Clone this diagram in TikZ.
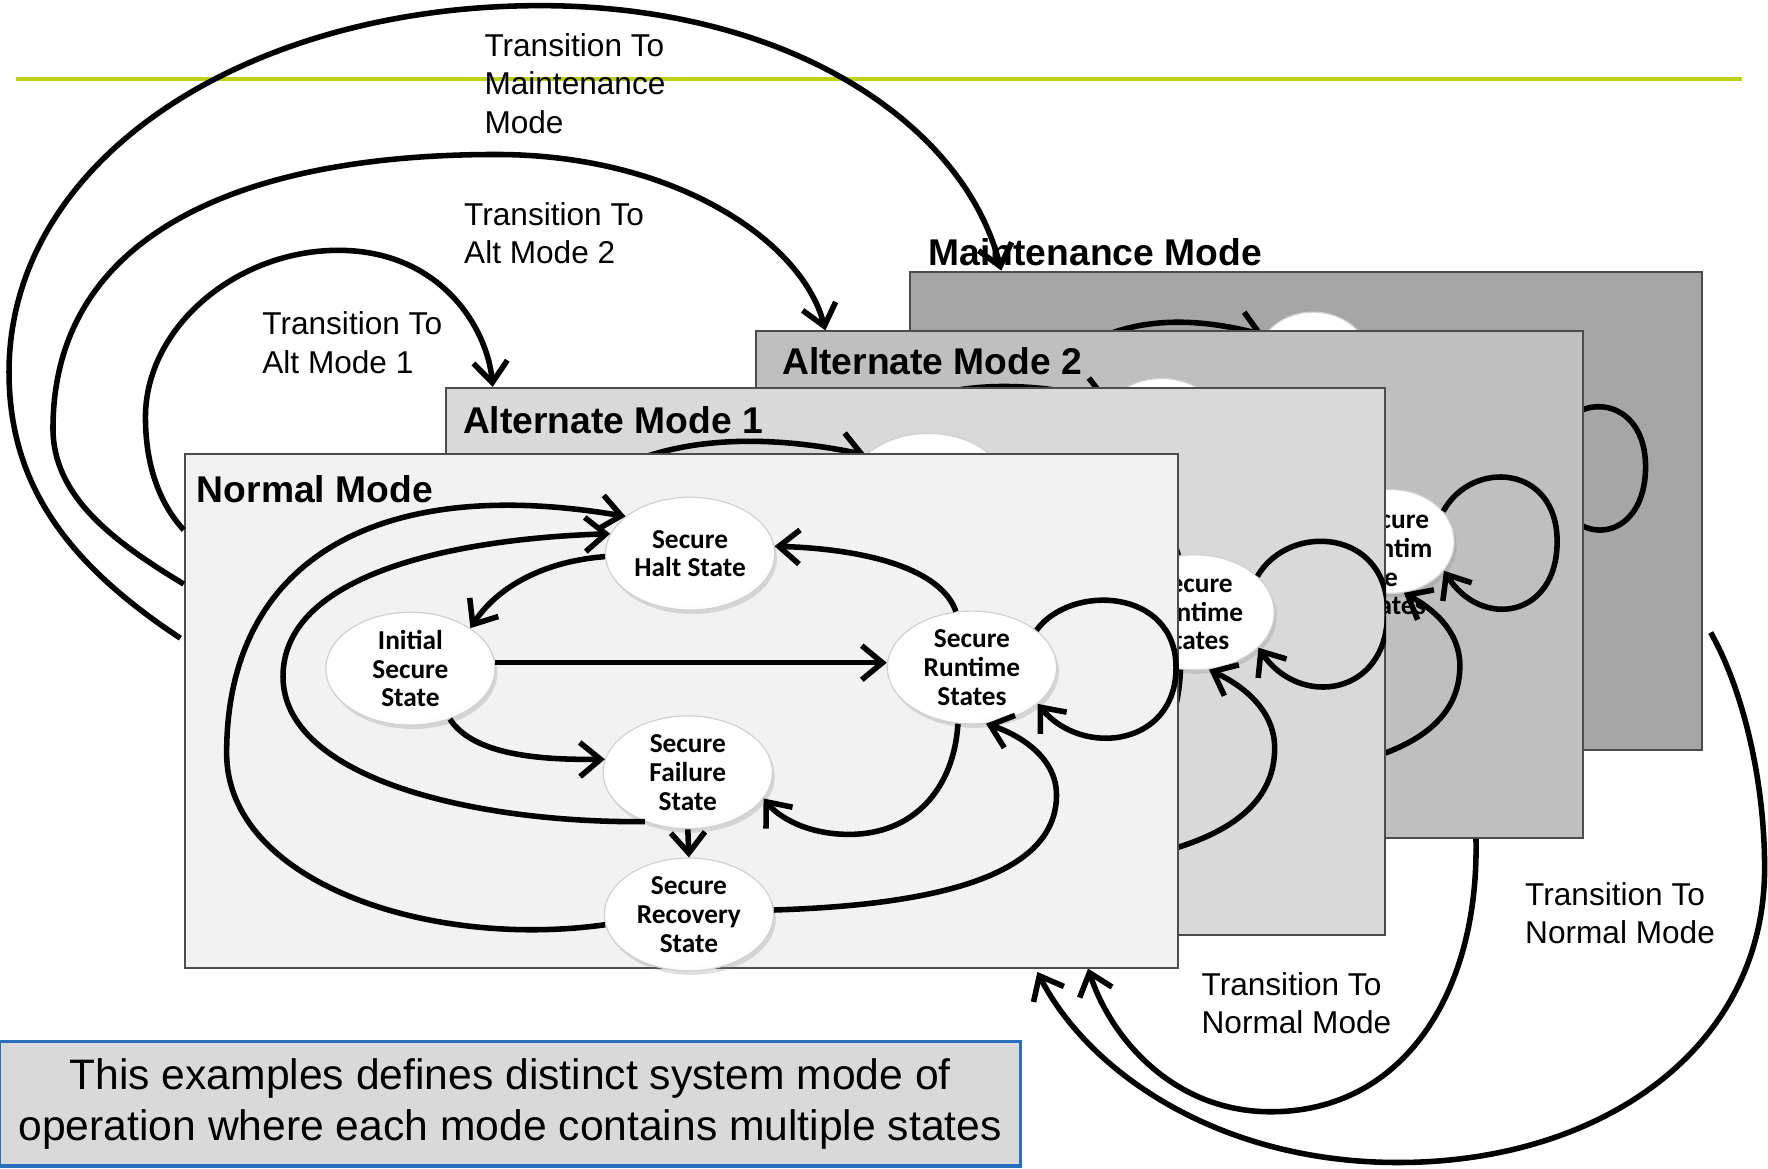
\documentclass[tikz,border=0pt]{standalone}
\usepackage{fontspec}
\setmainfont{Liberation Sans}
\newfontfamily\statefont{Carlito}
\usetikzlibrary{arrows.meta,shapes.geometric,shadows,calc}

\definecolor{normalfill}{HTML}{F2F2F2}
\definecolor{altonefill}{HTML}{D9D9D9}
\definecolor{alttwofill}{HTML}{BFBFBF}
\definecolor{maintfill}{HTML}{A6A6A6}
\definecolor{rulegreen}{RGB}{192,208,20}
\definecolor{noteblue}{RGB}{40,112,190}
\definecolor{notefill}{HTML}{D9D9D9}

% glossy fill of the state bubbles
\pgfdeclareradialshading{statGloss}{\pgfpoint{-4bp}{12bp}}{%
  color(0bp)=(white); color(30bp)=(white); color(44bp)=(black!5);
  color(56bp)=(black!20); color(66bp)=(black!36); color(100bp)=(black!36)}

\tikzset{
  modebox/.style={draw=black!70, line width=0.5pt, inner sep=0pt, anchor=north west},
  statenode/.style={ellipse, inner sep=-14pt, shade, shading=statGloss,
    draw=black!18, line width=0.3pt,
    drop shadow={shadow xshift=0.6pt, shadow yshift=-1pt, opacity=0.25},
    font=\statefont\bfseries\fontsize{6.9pt}{7.26pt}\selectfont,
    align=center, text=black},
  conn/.style={line width=1.4pt, -{Straight Barb[length=5.2pt,width=8.6pt]}},
  modetitle/.style={font=\bfseries\fontsize{9.39pt}{11pt}\selectfont, anchor=west, inner sep=0pt},
  translabel/.style={font=\fontsize{7.97pt}{9.67pt}\selectfont, align=left, anchor=west, inner sep=0pt},
  notebox/.style={draw=noteblue, line width=0.8pt, fill=notefill, inner sep=0pt,
    minimum width=9.05cm, minimum height=1.1cm, align=center,
    font=\fontsize{10.75pt}{12.8pt}\selectfont},
}

% label printers: layers seen only at their edges keep the bubbles blank
\newcommand\shownlabel[1]{#1}
\newcommand\blanklabel[1]{}

% the five states of one mode and the transitions between them
% #1 name prefix, #2 bubble width, #3 bubble height, #4 runtime label,
% #5 label printer for the other states
\newcommand\stategraph[5]{%
  \node[statenode, minimum width=#2, minimum height=#3] (#1halt) at (612,491) {#5{Secure\\Halt State}};
  \node[statenode, minimum width=#2, minimum height=#3] (#1init) at (364,593) {#5{Initial\\Secure\\State}};
  \node[statenode, minimum width=#2, minimum height=#3] (#1run) at (862,592) {#4};
  \node[statenode, minimum width=#2, minimum height=#3] (#1fail) at (610,685) {#5{Secure\\Failure\\State}};
  \node[statenode, minimum width=#2, minimum height=#3] (#1rec) at (611,811) {#5{Secure\\Recovery\\State}};
  \draw[conn] (#1rec.187) .. controls (380,842) and (201,782) .. (201,668)
    .. controls (201,500) and (330,420) .. (#1halt.150);
  \draw[conn] (#1fail.229) .. controls (420,730) and (251,690) .. (251,600)
    .. controls (251,510) and (400,478) .. (#1halt.166);
  \draw[conn] (#1halt.182) .. controls (480,498) and (440,522) .. (#1init.34);
  \draw[conn] (#1init.4) -- (#1run.west |- #1init.4);
  \draw[conn] (#1init.-52) .. controls (420,670) and (480,674) .. (#1fail.171);
  \draw[conn] (#1run.106) .. controls (835,505) and (770,487) .. (#1halt.5);
  \draw[conn] (#1run.256) .. controls (846,700) and (810,740) .. (753,740)
    .. controls (715,740) and (690,724) .. (#1fail.-19);
  \draw[conn] (#1rec.3) .. controls (850,802) and (937,770) .. (937,705)
    .. controls (937,672) and (905,652) .. (#1run.-76);
  \draw[conn] (#1run.30) .. controls (950,517) and (1043,522) .. (1043,592)
    .. controls (1043,662) and (960,672) .. (#1run.-29);
  \draw[conn] (#1fail.south) -- (#1rec.north);
}

\begin{document}
\begin{tikzpicture}[x=0.01cm, y=-0.01cm]
\useasboundingbox (0,0) rectangle (1568,1036);

% header rule
\coordinate (ruleL) at (14,70);
\coordinate (ruleR) at (1545,70);
\draw[rulegreen, line width=1pt] (ruleL) -- (ruleR);

% Maintenance mode (rearmost layer)
\node[modebox, fill=maintfill, minimum width=7.02cm, minimum height=4.24cm] (maint) at (806,240) {};
\begin{scope}
  \clip (maint.north west) rectangle (maint.south east);
  \begin{scope}[shift={(746,-123)}, xscale=0.684, yscale=0.907]
    \stategraph{m}{1.03cm}{0.91cm}{}{\blanklabel}
  \end{scope}
\end{scope}
\node[modetitle] (maintT) at (823,224) {Maintenance Mode};

% Alternate mode 2
\node[modebox, fill=alttwofill, minimum width=7.33cm, minimum height=4.49cm] (alt2) at (670,293) {};
\begin{scope}
  \clip (alt2.north west) rectangle (alt2.south east);
  \begin{scope}[shift={(532,-97)}, xscale=0.814, yscale=0.975]
    \stategraph{b}{1.12cm}{0.92cm}{\mbox{}\\[8pt]Secure\\Runtim\\e\\States}{\blanklabel}
  \end{scope}
\end{scope}
\node[modetitle] (alt2T) at (693,320) {Alternate Mode 2};

% Alternate mode 1
\node[modebox, fill=altonefill, minimum width=8.32cm, minimum height=4.85cm] (alt1) at (395,343) {};
\begin{scope}
  \clip (alt1.north west) rectangle (alt1.south east);
  \begin{scope}[shift={(245,-88)}, xscale=0.945, yscale=1.066]
    \stategraph{a}{1.41cm}{1.02cm}{Secure\\Runtime\\States}{\blanklabel}
  \end{scope}
\end{scope}
\node[modetitle] (alt1T) at (410,373) {Alternate Mode 1};

% Normal mode (front layer)
\node[modebox, fill=normalfill, minimum width=8.8cm, minimum height=4.55cm] (normal) at (163,402) {};
\node[modetitle] (normT) at (174,434) {Normal Mode};
\stategraph{n}{1.5cm}{1cm}{Secure\\Runtime\\States}{\shownlabel}

% transition labels
\node[translabel] (lblMaint) at (429,74) {Transition To\\Maintenance\\Mode};
\node[translabel] (lblAltTwo) at (411,207) {Transition To\\Alt Mode 2};
\node[translabel] (lblAltOne) at (232,304) {Transition To\\Alt Mode 1};
\node[translabel] (lblNormA) at (1065,890) {Transition To\\Normal Mode};
\node[translabel] (lblNormB) at (1352,810) {Transition To\\Normal Mode};

% mode transitions
\draw[conn] ($(normal.north west)+(0,68)$) .. controls (140,445) and (129,410) .. (129,370)
  .. controls (129,290) and (210,222) .. (300,222)
  .. controls (390,222) and (432,290) .. ($(alt1.north west)+(42,0)$);
\draw[conn] ($(normal.north west)+(0,116)$) .. controls (100,480) and (47,440) .. (47,380)
  .. controls (47,210) and (210,137) .. (440,137)
  .. controls (600,137) and (712,215) .. ($(alt2.north west)+(62,0)$);
\draw[conn] ($(normal.north west)+(-3,164)$) .. controls (60,500) and (8,430) .. (8,330)
  .. controls (8,140) and (220,5) .. (479,5)
  .. controls (700,5) and (855,110) .. ($(maint.north west)+(82,0)$);
\draw[conn] ($(alt2.south west)+(639,0)$) .. controls (1312,880) and (1245,986) .. (1127,986)
  .. controls (1040,986) and (985,920) .. ($(normal.south west)+(802,0)$);
\draw[conn] ($(maint.east)+(7,108)$) .. controls (1545,610) and (1565,690) .. (1565,770)
  .. controls (1565,930) and (1420,1031) .. (1240,1031)
  .. controls (1080,1031) and (965,950) .. ($(normal.south west)+(757,3)$);

% note
\node[notebox] (note) at (452.5,979) {This examples defines distinct system mode of\\operation where each mode contains multiple states};
\end{tikzpicture}
\end{document}
